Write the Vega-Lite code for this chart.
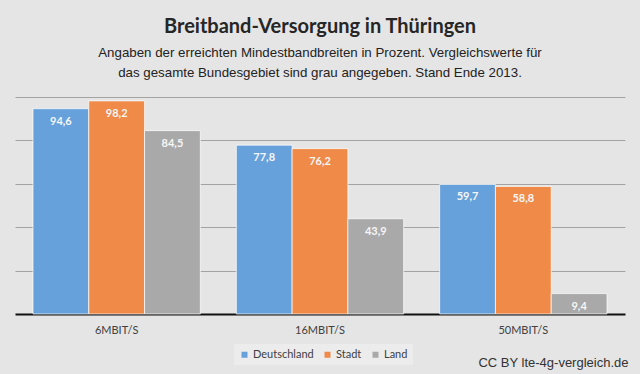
{
  "$schema": "https://vega.github.io/schema/vega-lite/v6.json",
  "width": 610,
  "height": 217,
  "autosize": {"type": "none"},
  "padding": {"left": 15, "top": 97, "right": 15, "bottom": 60},
  "background": "#e5e5e5",
  "title": {
    "text": "Breitband-Versorgung in Thüringen",
    "subtitle": ["Angaben der erreichten Mindestbandbreiten in Prozent. Vergleichswerte für", "das gesamte Bundesgebiet sind grau angegeben. Stand Ende 2013."],
    "anchor": "middle",
    "frame": "group",
    "font": "Lato",
    "fontSize": 20,
    "fontWeight": "bold",
    "color": "#262626",
    "subtitleFont": "Liberation Sans",
    "subtitleFontSize": 13.3,
    "subtitleColor": "#222222",
    "subtitleLineHeight": 20,
    "subtitlePadding": 9,
    "offset": 18
  },
  "data": {
    "values": [
      {"kategorie": "6MBIT/S", "gebiet": "Deutschland", "wert": 94.6},
      {"kategorie": "6MBIT/S", "gebiet": "Stadt", "wert": 98.2},
      {"kategorie": "6MBIT/S", "gebiet": "Land", "wert": 84.5},
      {"kategorie": "16MBIT/S", "gebiet": "Deutschland", "wert": 77.8},
      {"kategorie": "16MBIT/S", "gebiet": "Stadt", "wert": 76.2},
      {"kategorie": "16MBIT/S", "gebiet": "Land", "wert": 43.9},
      {"kategorie": "50MBIT/S", "gebiet": "Deutschland", "wert": 59.7},
      {"kategorie": "50MBIT/S", "gebiet": "Stadt", "wert": 58.8},
      {"kategorie": "50MBIT/S", "gebiet": "Land", "wert": 9.4}
    ]
  },
  "encoding": {
    "x": {
      "field": "kategorie",
      "type": "nominal",
      "sort": ["6MBIT/S", "16MBIT/S", "50MBIT/S"],
      "scale": {"paddingInner": 0.177, "paddingOuter": 0.0885},
      "axis": {
        "title": "CC BY lte-4g-vergleich.de",
        "titleFont": "Liberation Sans",
        "titleFontSize": 13,
        "titleFontWeight": "normal",
        "titleColor": "#333333",
        "titleAnchor": "end",
        "titleAlign": "right",
        "titleBaseline": "middle",
        "titleX": 613,
        "titleY": 48,
        "labelAngle": 0,
        "labelFont": "Lato",
        "labelFontSize": 11,
        "labelColor": "#404040",
        "labelPadding": 10,
        "ticks": false,
        "domainColor": "#111111",
        "domainWidth": 2,
        "grid": false
      }
    },
    "xOffset": {"field": "gebiet", "type": "nominal", "sort": ["Deutschland", "Stadt", "Land"], "scale": {"paddingInner": 0}},
    "y": {
      "field": "wert",
      "type": "quantitative",
      "scale": {"domain": [0, 100]},
      "axis": {
        "title": null,
        "labels": false,
        "ticks": false,
        "domain": false,
        "values": [20, 40, 60, 80, 100],
        "gridColor": "#a3a3a3",
        "gridWidth": 1
      }
    }
  },
  "layer": [
    {
      "mark": {"type": "bar", "stroke": "#ffffff", "strokeWidth": 1, "strokeOpacity": 0.7},
      "encoding": {
        "color": {
          "field": "gebiet",
          "type": "nominal",
          "scale": {"domain": ["Deutschland", "Stadt", "Land"], "range": ["#67a1dc", "#ef8a48", "#aaa9aa"]},
          "legend": {
            "title": null,
            "orient": "none",
            "direction": "horizontal",
            "legendX": 219,
            "legendY": 247,
            "fillColor": "#ececec",
            "padding": 5,
            "symbolType": "square",
            "symbolSize": 36,
            "symbolStrokeWidth": 0,
            "labelFont": "Lato",
            "labelFontSize": 11,
            "labelColor": "#404040",
            "columnPadding": 8,
            "labelOffset": 3
          }
        }
      }
    },
    {
      "mark": {"type": "text", "dy": 13, "baseline": "middle", "font": "Lato", "fontSize": 11, "fontWeight": "bold", "color": "#f6f6f6"},
      "encoding": {
        "text": {"field": "wert", "type": "quantitative", "format": ".1f"}
      }
    }
  ],
  "config": {
    "view": {"stroke": null},
    "locale": {"number": {"decimal": ",", "thousands": ".", "grouping": [3], "currency": ["", " €"]}}
  }
}
